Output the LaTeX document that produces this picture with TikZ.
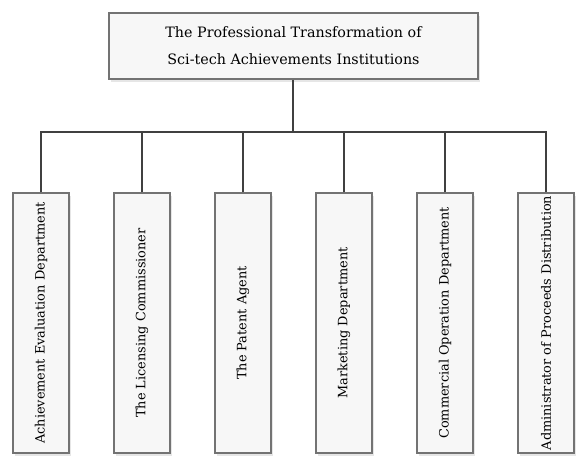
\documentclass[tikz,border=0pt]{standalone}
\usepackage{fontspec}
\setmainfont{DejaVu Serif}
\usetikzlibrary{shadows}

\begin{document}
\begin{tikzpicture}[x=1pt, y=-1pt,
		box/.style={draw=black!55, line width=1.5pt, fill=black!3, inner sep=0pt,
			drop shadow={shadow xshift=2pt, shadow yshift=-3pt, opacity=0.2, fill=black!50},
			font=\fontsize{12.9}{27}\selectfont},
		link/.style={draw=black!75, line width=1.6pt}]
	\useasboundingbox (0,0) rectangle (576,456);
	
	\node [box, minimum width=369pt, minimum height=66pt, align=center, font=\fontsize{14.3}{27}\selectfont] (head) at (293.5,46)
		{The Professional Transformation of\\Sci-tech Achievements Institutions};
	\coordinate (bus) at (293,132);
	\draw [link] (head.south -| bus) -- (bus);
	
	\foreach \dept [count=\xi] in {Achievement Evaluation Department, The Licensing Commissioner,
		The Patent Agent, Marketing Department, Commercial Operation Department,
		Administrator of Proceeds Distribution}{
		\node [box, minimum width=56pt, minimum height=260pt] (dep\xi) at ({41+101*(\xi-1)},323)
			{\rotatebox{90}{\dept}};
		\draw [link] (dep\xi.north) |- (bus);}
\end{tikzpicture}
\end{document}
